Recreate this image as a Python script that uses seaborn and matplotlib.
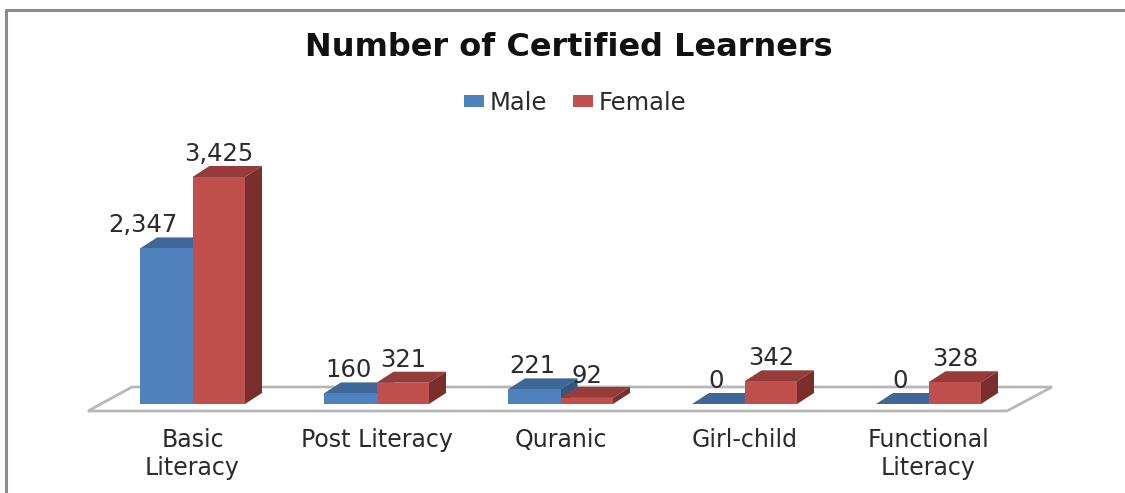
import matplotlib
matplotlib.use("Agg")
import matplotlib.pyplot as plt
from matplotlib.lines import Line2D
from matplotlib.patches import Polygon
import pandas as pd
import seaborn as sns

categories = ["Basic\nLiteracy", "Post Literacy", "Quranic", "Girl-child", "Functional\nLiteracy"]
male = [2347, 160, 221, 0, 0]
female = [3425, 321, 92, 342, 328]
series_names = ["Male", "Female"]
title = "Number of Certified Learners"

W, H = 1125, 493
BASE_PX = 404
PX_PER_UNIT = 227 / 3425
CAT_PX = 184
CAT0_PX = 192.5
DX, DY = 17, 11
TEXT = "#2b2b2b"
FRONT = ["#4F81BD", "#C0504D"]
TOP = ["#3F6797", "#953C3A"]
SIDE = ["#34557D", "#7A2F2D"]

sns.set_theme(style="white")
plt.rcParams["font.family"] = ["DejaVu Sans"]

df = pd.DataFrame({
    "cat": categories * 2,
    "val": male + female,
    "series": [series_names[0]] * 5 + [series_names[1]] * 5,
})

fig = plt.figure(figsize=(W / 100, H / 100), dpi=100)
ax = fig.add_axes([0, (H - BASE_PX) / H, 1, BASE_PX / H])
ax.patch.set_alpha(0)
sns.barplot(data=df, x="cat", y="val", hue="series", hue_order=series_names,
            palette=FRONT, width=105 / CAT_PX, dodge=True, saturation=1,
            linewidth=0, ax=ax, zorder=3)
ax.set_xlim(-CAT0_PX / CAT_PX, (W - CAT0_PX) / CAT_PX)
ax.set_ylim(0, BASE_PX / PX_PER_UNIT)
ux = 1 / CAT_PX
uy = 1 / PX_PER_UNIT
dx, dy = DX * ux, DY * uy

# floor plate
def px(x, y):
    return ((x - CAT0_PX) * ux, (BASE_PX - y) * uy)
floor = Polygon([px(88, 411), px(132, 387), px(1052, 387), px(1007, 411)], closed=True,
                facecolor="white", edgecolor="#b8b8b8", linewidth=2, clip_on=False, zorder=1)
ax.add_patch(floor)

# depth faces and value labels derived from the bars
n = len(categories)
bars = [b for c in ax.containers for b in c]
for i, b in enumerate(bars):
    s = 0 if i < n else 1
    x0, w, h = b.get_x(), b.get_width(), b.get_height()
    z = 3 + (i % n) * 0.1 + s * 0.01
    b.set_zorder(z + 0.005)
    ax.add_patch(Polygon([(x0, h), (x0 + dx, h + dy), (x0 + w + dx, h + dy), (x0 + w, h)],
                         facecolor=TOP[s], edgecolor="none", zorder=z))
    ax.add_patch(Polygon([(x0 + w, 0), (x0 + w + dx, dy), (x0 + w + dx, h + dy), (x0 + w, h)],
                         facecolor=SIDE[s], edgecolor="none", zorder=z))
    # label nudges (in px): the tall male bar's label moves clear of its neighbour
    off_x = -23 if (s == 0 and h > 1000) else (-2 if s == 0 else 0)
    off_y = -1 if (s == 1 and h < 100) else 0
    ax.annotate(f"{int(h):,}", (x0 + w / 2, h + dy), xytext=(off_x * 0.72, off_y * 0.72),
                textcoords="offset points", ha="center", va="bottom",
                fontsize=17.5, color=TEXT, zorder=10)

ax.set_xlabel("")
ax.set_ylabel("")
ax.set_yticks([])
ax.tick_params(axis="x", length=0, pad=17, labelsize=17, labelcolor=TEXT)
for lab in ax.get_xticklabels():
    lab.set_linespacing(1.25)
for sp in ax.spines.values():
    sp.set_visible(False)

ax.legend(title=None, frameon=False, ncol=2, loc="center", bbox_to_anchor=(575 / W, (BASE_PX - 103) / BASE_PX),
          fontsize=17.5, handlelength=0.82, handleheight=0.4, handletextpad=0.25, columnspacing=1.05,
          labelcolor=TEXT)

fig.text(569 / W, 1 - 48 / H, title, ha="center", va="center", fontsize=23,
         fontweight="bold", color="#111111")
fig.add_artist(Line2D([6 / W, 6 / W], [0, 1 - 10 / H], color="#8c8c8c", lw=2.2))
fig.add_artist(Line2D([6 / W, 1], [1 - 10 / H, 1 - 10 / H], color="#8c8c8c", lw=2.2))

fig.savefig("out.png", dpi=100, facecolor="white")
